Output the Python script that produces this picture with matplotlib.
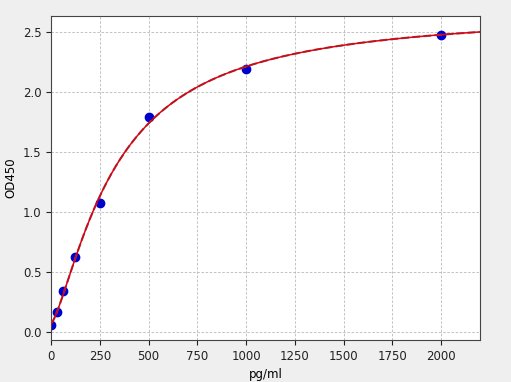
import numpy as np
import matplotlib
matplotlib.use("Agg")
import matplotlib.pyplot as plt

# standard points
conc = [0, 31.25, 62.5, 125, 250, 500, 1000, 2000]
od450 = [0.06, 0.167, 0.34, 0.63, 1.08, 1.795, 2.19, 2.48]


def fit_4pl(x, y):
    # grid over slope / midpoint, linear solve for bottom / top
    x = np.asarray(x, float)
    y = np.asarray(y, float)
    best = None
    for b in np.linspace(0.6, 2.0, 141):
        for c in np.linspace(100, 1500, 281):
            g = 1.0 / (1.0 + (x / c) ** b)
            A = np.column_stack([g, 1 - g])
            coef, *_ = np.linalg.lstsq(A, y, rcond=None)
            err = np.sum((A @ coef - y) ** 2)
            if best is None or err < best[0]:
                best = (err, coef[0], b, c, coef[1])
    return best[1:]


a, b, c, d = fit_4pl(conc, od450)
xs = np.linspace(0, 2200, 400)
ys = d + (a - d) / (1 + (xs / c) ** b)

fig = plt.figure(figsize=(5.11, 3.82), dpi=100, facecolor="#efefef")
ax = fig.add_axes([51 / 511, 42 / 382, 429 / 511, 324 / 382])
ax.set_facecolor("white")

ax.plot(conc, od450, "o", color="#0000cc", markersize=6, zorder=2)
ax.plot(xs, ys, "--", color="#666666", linewidth=1.5, zorder=3)
ax.plot(xs, ys, "-", color="#e00010", linewidth=1.1, zorder=4)

ax.set_xlim(0, 2200)
ax.set_ylim(-0.065, 2.635)
ax.set_xticks([0, 250, 500, 750, 1000, 1250, 1500, 1750, 2000])
ax.set_yticks([0.0, 0.5, 1.0, 1.5, 2.0, 2.5])
ax.grid(True, linestyle=(0, (3, 2)), color="#b8b8b8", linewidth=0.6)
ax.tick_params(labelsize=8.5, colors="#222222")
ax.set_xlabel("pg/ml", fontsize=8.5)
ax.set_ylabel("OD450", fontsize=8.5)
for s in ax.spines.values():
    s.set_color("#444444")

fig.savefig("out.png", dpi=100, facecolor=fig.get_facecolor())
